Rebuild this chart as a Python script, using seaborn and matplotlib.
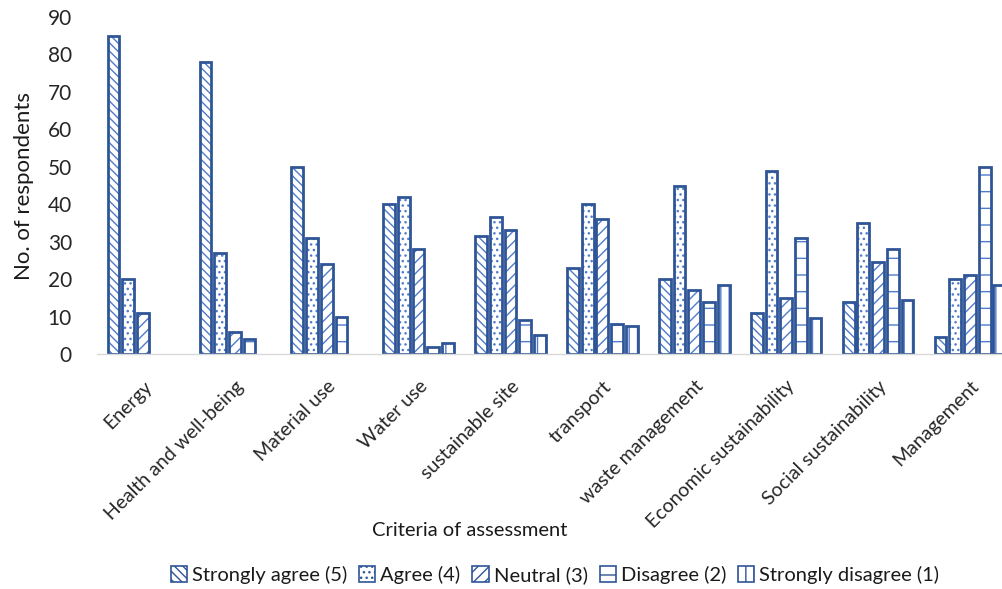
import numpy as np
import pandas as pd
import matplotlib
matplotlib.use("Agg")
import matplotlib.pyplot as plt
from matplotlib.patches import Rectangle
import seaborn as sns

criteria = ["Energy", "Health and well-being", "Material use", "Water use",
            "sustainable site", "transport", "waste management",
            "Economic sustainability", "Social sustainability", "Management"]
responses = ["Strongly agree (5)", "Agree (4)", "Neutral (3)",
             "Disagree (2)", "Strongly disagree (1)"]

strongly_agree    = [85, 78, 50, 40, 31.5, 23, 20, 11, 14, 4.5]
agree             = [20, 27, 31, 42, 36.5, 40, 45, 49, 35, 20]
neutral           = [11, 6, 24, 28, 33, 36, 17, 15, 24.5, 21]
disagree          = [0, 4, 10, 2, 9, 8, 14, 31, 28, 50]
strongly_disagree = [0, 0, 0, 3, 5, 7.5, 18.5, 9.5, 14.5, 18.5]

series = [strongly_agree, agree, neutral, disagree, strongly_disagree]
df = pd.DataFrame({
    "criterion": np.repeat(criteria, len(responses)),
    "response": responses * len(criteria),
    "count": [series[j][i] for i in range(len(criteria)) for j in range(len(responses))],
})

sns.set_theme(style="white")
plt.rcParams["font.family"] = ["Lato", "DejaVu Sans"]
plt.rcParams["hatch.linewidth"] = 1.0

outline = "#2F5597"
hatch_blue = "#4F7BCB"
hatches = ["\\\\\\\\", "...", "///", "-", "||"]

fig = plt.figure(figsize=(10.03, 5.89), dpi=100)
ax = fig.add_axes([97 / 1003, 235 / 589, (1003 - 97) / 1003, 337 / 589])

sns.barplot(data=df, x="criterion", y="count", hue="response",
            order=criteria, hue_order=responses, ax=ax,
            palette=["white"] * 5, edgecolor=hatch_blue, linewidth=0,
            gap=0.2, width=0.8, legend=False)

# hatch fill comes from the bars themselves; a darker outline is laid on top
for container, h in zip(ax.containers, hatches):
    for bar in container:
        bar.set_hatch(h)
        bar.set_edgecolor(hatch_blue)
        if bar.get_height() > 0:
            ax.add_patch(Rectangle(bar.get_xy(), bar.get_width(), bar.get_height(),
                                   fill=False, edgecolor=outline, linewidth=2.0,
                                   zorder=bar.get_zorder() + 0.1))

ax.set_ylim(0, 90)
ax.set_yticks(range(0, 91, 10))
ax.set_xlim(-0.5, 9.36)
for s in ["top", "right", "left"]:
    ax.spines[s].set_visible(False)
ax.spines["bottom"].set_color("#D9D9D9")
ax.spines["bottom"].set_linewidth(1.0)
ax.tick_params(axis="y", length=0, pad=18, labelsize=15, labelcolor="#262626")
ax.tick_params(axis="x", length=0, pad=17, labelsize=14, labelcolor="#262626")
plt.setp(ax.get_xticklabels(), rotation=45, ha="right", rotation_mode="anchor")

ax.set_ylabel("No. of respondents", fontsize=16, color="#1a1a1a", labelpad=10)
ax.set_xlabel("Criteria of assessment", fontsize=14.5, color="#1a1a1a")
ax.xaxis.set_label_coords((470 - 97) / (1003 - 97), -(522 - 354) / 337)

handles = [Rectangle((0, 0), 1, 1, facecolor="white", edgecolor=outline,
                     hatch=h, linewidth=1.2) for h in hatches]
fig.legend(handles, responses, loc="center", bbox_to_anchor=(555 / 1003, 1 - 575 / 589),
           ncol=5, frameon=False, fontsize=14.5, handlelength=0.8, handleheight=0.8,
           handletextpad=0.25, columnspacing=0.6, labelcolor="#1a1a1a")

fig.savefig("out.png", dpi=100)
